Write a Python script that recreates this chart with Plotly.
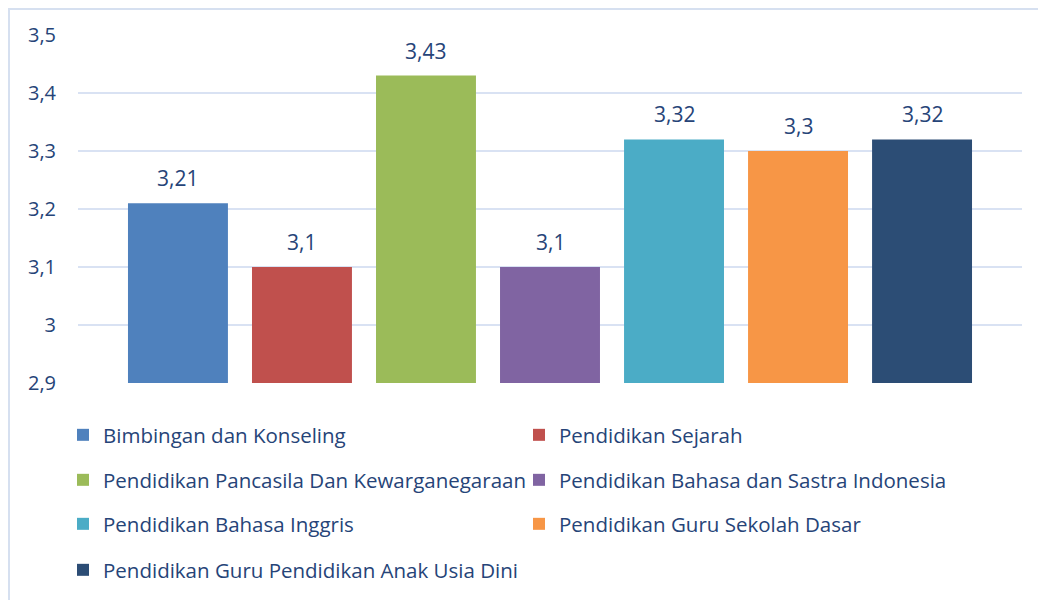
import plotly.graph_objects as go

categories = [
    "Bimbingan dan Konseling",
    "Pendidikan Sejarah",
    "Pendidikan Pancasila Dan Kewarganegaraan",
    "Pendidikan Bahasa dan Sastra Indonesia",
    "Pendidikan Bahasa Inggris",
    "Pendidikan Guru Sekolah Dasar",
    "Pendidikan Guru Pendidikan Anak Usia Dini",
]
values = [3.21, 3.10, 3.43, 3.10, 3.32, 3.30, 3.32]
labels = ["3,21", "3,1", "3,43", "3,1", "3,32", "3,3", "3,32"]
colors = ["#4f81bd", "#c0504d", "#9bbb59", "#8064a2", "#4bacc6", "#f79646", "#2c4d75"]
tick_vals = [2.9, 3.0, 3.1, 3.2, 3.3, 3.4, 3.5]
tick_text = ["2,9", "3", "3,1", "3,2", "3,3", "3,4", "3,5"]

TXT = "#264478"
FONT = "Open Sans"
FS_LEG = 20.5
FS_LAB = 21
FS_TICK = 20

# page body has an 8px margin: figure coords = screen coords - 8
OFF = 8
W, H = 1046 - OFF, 600 - OFF
L, R, T, B = 78 - OFF, 24, 35 - OFF, 216
pw, ph = W - L - R, H - T - B

def px2x(sx):
    return (sx - OFF - L) / pw

def py2y(sy):
    return (H - B - (sy - OFF)) / ph

legend_ids = ["legend", "legend", "legend2", "legend2", "legend3", "legend3", "legend4"]

fig = go.Figure()
for name, v, c, lg in zip(categories, values, colors, legend_ids):
    fig.add_trace(go.Bar(
        x=[name], y=[v], name=name, width=0.806,
        marker=dict(color=c, line=dict(width=0)),
        cliponaxis=False, legend=lg, hoverinfo="x+y",
    ))

annotations = [
    dict(x=name, y=v, text=lab, xref="x", yref="y", showarrow=False,
         yanchor="bottom", yshift=9, font=dict(size=FS_LAB, color=TXT, family=FONT))
    for name, v, lab in zip(categories, values, labels)
]

row_y = [435, 480, 524, 570]
leg_common = dict(orientation="h", xanchor="left", yanchor="middle",
                  font=dict(size=FS_LEG, color=TXT, family=FONT),
                  entrywidth=411, entrywidthmode="pixels",
                  bgcolor="rgba(0,0,0,0)", itemclick=False, itemdoubleclick=False)
LEGX = px2x(63)

fig.update_layout(
    width=W, height=H,
    margin=dict(l=L, r=R, t=T, b=B),
    paper_bgcolor="white", plot_bgcolor="white",
    separators=",.",
    barmode="overlay",
    font=dict(family=FONT, color=TXT),
    xaxis=dict(type="category", categoryorder="array", categoryarray=categories,
               range=[-0.806, 6.806], showticklabels=False, showgrid=False,
               zeroline=False, showline=False, ticks=""),
    yaxis=dict(range=[2.9, 3.5], tickvals=tick_vals, ticktext=tick_text,
               showgrid=True, gridcolor="#d9e2f3", gridwidth=2,
               zeroline=False, showline=False, ticks="",
               tickfont=dict(size=FS_TICK, color=TXT, family=FONT), ticklabelstandoff=21),
    legend=dict(x=LEGX, y=py2y(row_y[0]), **leg_common),
    legend2=dict(x=LEGX, y=py2y(row_y[1]), **leg_common),
    legend3=dict(x=LEGX, y=py2y(row_y[2]), **leg_common),
    legend4=dict(x=LEGX, y=py2y(row_y[3]), **leg_common),
    annotations=annotations,
    shapes=[dict(type="rect", xref="paper", yref="paper",
                 x0=px2x(9), x1=px2x(1070), y0=py2y(640), y1=py2y(9),
                 line=dict(color="#d6e0f0", width=2), fillcolor="rgba(0,0,0,0)", layer="below")],
)

fig.write_html("out.html")
